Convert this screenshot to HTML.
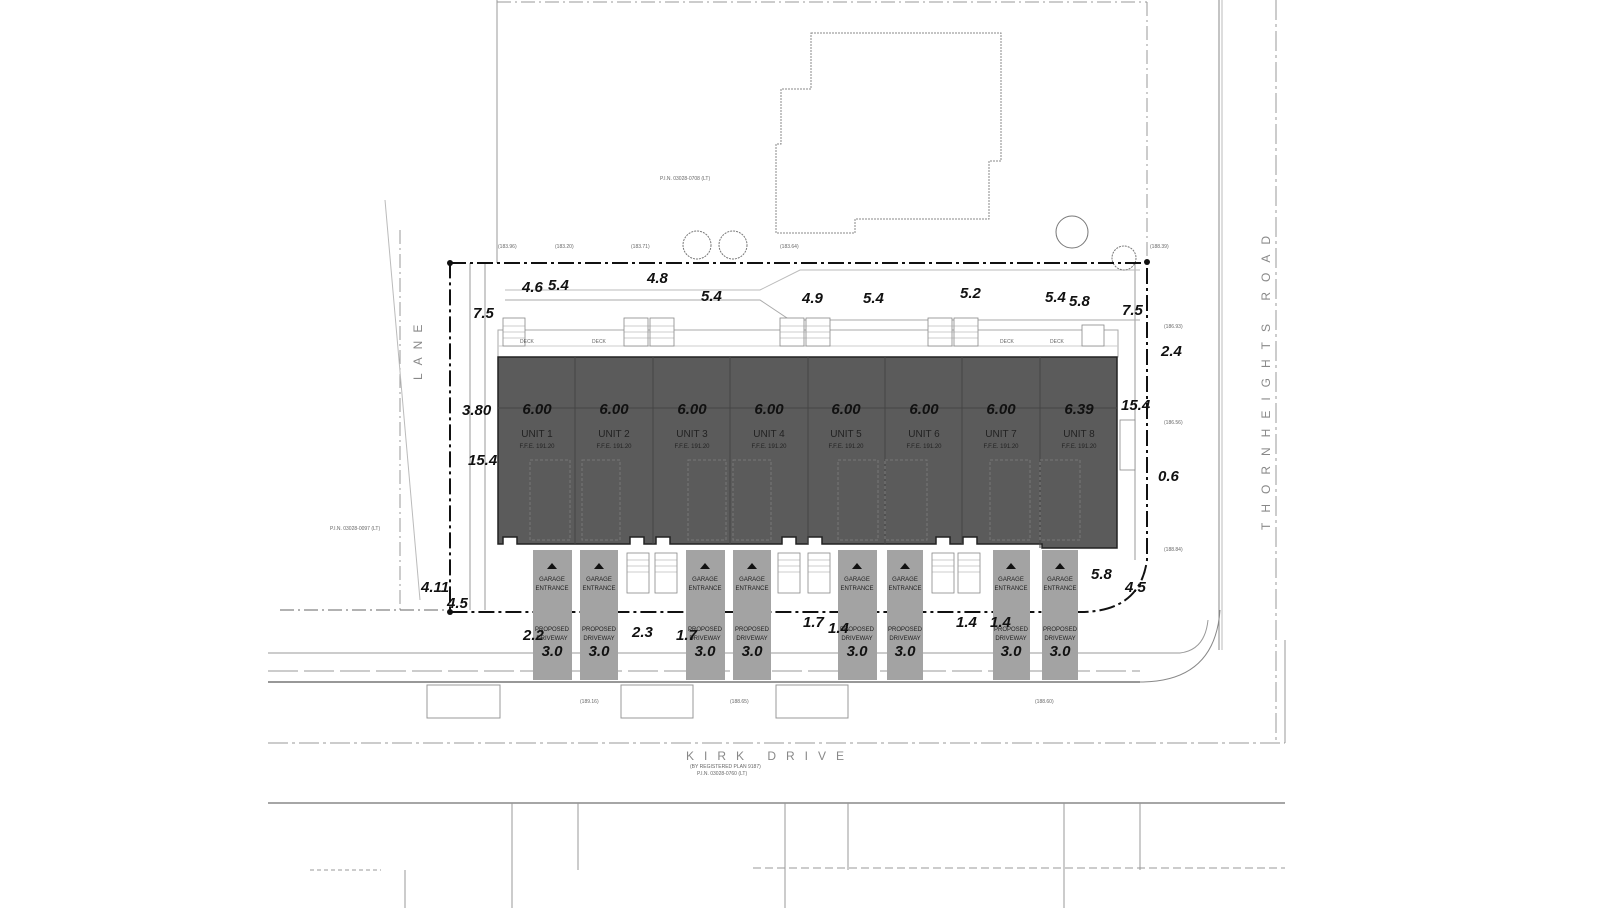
<!DOCTYPE html>
<html><head><meta charset="utf-8"><style>
html,body{margin:0;padding:0;background:#fff;width:1600px;height:908px;overflow:hidden}
svg{display:block}
.s{font-family:"Liberation Sans",sans-serif}
.n{font-family:"Liberation Sans",sans-serif;font-weight:bold;font-style:italic;font-size:15px;fill:#111}
.u{font-family:"Liberation Sans",sans-serif;font-size:10px;fill:#222}
.t{font-family:"Liberation Sans",sans-serif;font-size:5px;fill:#666}
</style></head><body>
<svg width="1600" height="908" viewBox="0 0 1600 908" xmlns="http://www.w3.org/2000/svg">
<g fill="none" stroke="#999" stroke-width="1">
<line x1="497" y1="0" x2="497" y2="263"/>
<line x1="497" y1="2" x2="1147" y2="2" stroke-dasharray="14 4 2 4"/>
<line x1="1147" y1="2" x2="1147" y2="262" stroke-dasharray="14 4 2 4"/>
<line x1="1219" y1="0" x2="1219" y2="650" stroke="#888"/>
<line x1="1222" y1="0" x2="1222" y2="650" stroke="#bbb"/>
<line x1="1276" y1="0" x2="1276" y2="743" stroke-dasharray="20 4 3 4"/>
<line x1="1285" y1="640" x2="1285" y2="743"/>
<polygon points="811,33 1001,33 1001,161 989,161 989,219 855,219 855,233 776,233 776,144 781,144 781,89 811,89" stroke="#888" stroke-dasharray="2 1"/>
<line x1="400" y1="230" x2="400" y2="610" stroke-dasharray="14 4 2 4"/>
<line x1="385" y1="200" x2="420" y2="600" stroke="#bbb"/>
<line x1="268" y1="653" x2="1180" y2="653"/>
<line x1="268" y1="671" x2="1140" y2="671" stroke-dasharray="30 6"/>
<line x1="268" y1="682" x2="1140" y2="682" stroke="#777" stroke-width="1.5"/>
<path d="M1140 682 Q1215 682 1220 610" stroke="#888"/>
<path d="M1180 653 Q1205 650 1208 620" />
<line x1="268" y1="743" x2="1285" y2="743" stroke-dasharray="20 4 3 4"/>
<line x1="268" y1="803" x2="1285" y2="803" stroke="#888" stroke-width="1.5"/>
<line x1="512" y1="803" x2="512" y2="908"/><line x1="578" y1="803" x2="578" y2="870"/>
<line x1="785" y1="803" x2="785" y2="908"/><line x1="848" y1="803" x2="848" y2="870"/>
<line x1="1064" y1="803" x2="1064" y2="908"/><line x1="1140" y1="803" x2="1140" y2="870"/>
<line x1="753" y1="868" x2="1285" y2="868" stroke-dasharray="8 4"/>
<line x1="310" y1="870" x2="381" y2="870" stroke-dasharray="4 3"/>
<line x1="405" y1="870" x2="405" y2="908"/>
<rect x="427" y="685" width="73" height="33"/><rect x="621" y="685" width="72" height="33"/><rect x="776" y="685" width="72" height="33"/>
<line x1="280" y1="610" x2="450" y2="610" stroke="#666" stroke-dasharray="14 4 2 4"/>
<line x1="470" y1="263" x2="470" y2="610"/>
<line x1="485" y1="263" x2="485" y2="610"/>
<line x1="1135" y1="263" x2="1135" y2="560"/>
<path d="M505 300 L760 300 L790 320 L1140 320" stroke="#aaa"/>
<path d="M505 290 L760 290 L800 270 L1140 270" stroke="#bbb"/>
<rect x="498" y="330" width="620" height="27" stroke="#aaa"/>
<line x1="498" y1="346" x2="1118" y2="346" stroke="#ccc"/>
</g>
<!-- deck stairs -->
<g fill="#fff" stroke="#888" stroke-width="0.8">
<rect x="503" y="318" width="22" height="28"/><rect x="624" y="318" width="24" height="28"/><rect x="650" y="318" width="24" height="28"/>
<rect x="780" y="318" width="24" height="28"/><rect x="806" y="318" width="24" height="28"/>
<rect x="928" y="318" width="24" height="28"/><rect x="954" y="318" width="24" height="28"/><rect x="1082" y="325" width="22" height="21"/>
<rect x="627" y="553" width="22" height="40"/><rect x="655" y="553" width="22" height="40"/>
<rect x="778" y="553" width="22" height="40"/><rect x="808" y="553" width="22" height="40"/>
<rect x="932" y="553" width="22" height="40"/><rect x="958" y="553" width="22" height="40"/>
<rect x="1120" y="420" width="15" height="50"/>
</g>
<g stroke="#999" stroke-width="0.6">
<path d="M627 560h22M627 566h22M627 572h22M655 560h22M655 566h22M655 572h22M778 560h22M778 566h22M778 572h22M808 560h22M808 566h22M808 572h22M932 560h22M932 566h22M932 572h22M958 560h22M958 566h22M958 572h22"/>
<path d="M503 326h22M503 332h22M503 338h22M624 326h50M624 332h50M624 338h50M780 326h50M780 332h50M780 338h50M928 326h50M928 332h50M928 338h50"/>
</g>
<g fill="none" stroke="#777">
<circle cx="697" cy="245" r="14" stroke-dasharray="2 1"/><circle cx="733" cy="245" r="14" stroke-dasharray="2 1"/><circle cx="1072" cy="232" r="16"/><circle cx="1124" cy="258" r="12" stroke-dasharray="2 1"/>
</g>
<path d="M450 263 L1147 263 L1147 560 Q1140 612 1080 612 L450 612 Z" fill="none" stroke="#111" stroke-width="2" stroke-dasharray="16 4 3 4"/>
<circle cx="450" cy="263" r="3" fill="#111"/><circle cx="1147" cy="262" r="3" fill="#111"/><circle cx="450" cy="612" r="3" fill="#111"/>
<g fill="#a3a3a3">
<rect x="533" y="550" width="39" height="130"/><rect x="580" y="550" width="38" height="130"/>
<rect x="686" y="550" width="39" height="130"/><rect x="733" y="550" width="38" height="130"/>
<rect x="838" y="550" width="39" height="130"/><rect x="887" y="550" width="36" height="130"/>
<rect x="993" y="550" width="37" height="130"/><rect x="1042" y="550" width="36" height="130"/>
</g>
<path d="M498 357 L1117 357 L1117 548 L1042 548 L1042 544 L993 544 L977 544 L977 537 L963 537 L963 544 L950 544 L950 537 L936 537 L936 544 L923 544 L838 544 L822 544 L822 537 L808 537 L808 544 L796 544 L796 537 L782 537 L782 544 L686 544 L670 544 L670 537 L656 537 L656 544 L644 544 L644 537 L630 537 L630 544 L533 544 L517 544 L517 537 L503 537 L503 544 L498 544 Z" fill="#5b5b5b" stroke="#222" stroke-width="1.5"/>
<g stroke="#444" stroke-width="1">
<line x1="575" y1="357" x2="575" y2="544"/><line x1="653" y1="357" x2="653" y2="544"/><line x1="730" y1="357" x2="730" y2="544"/><line x1="808" y1="357" x2="808" y2="544"/><line x1="885" y1="357" x2="885" y2="544"/><line x1="962" y1="357" x2="962" y2="544"/><line x1="1040" y1="357" x2="1040" y2="548"/>
<line x1="498" y1="408" x2="1117" y2="408"/>
</g>
<g fill="none" stroke="#777" stroke-dasharray="3 2">
<rect x="530" y="460" width="40" height="80"/><rect x="582" y="460" width="38" height="80"/><rect x="688" y="460" width="38" height="80"/><rect x="733" y="460" width="38" height="80"/><rect x="838" y="460" width="40" height="80"/><rect x="885" y="460" width="42" height="80"/><rect x="990" y="460" width="40" height="80"/><rect x="1040" y="460" width="40" height="80"/>
</g>
<g text-anchor="middle">
<g class="n" font-size="15">
<text x="537" y="414">6.00</text><text x="614" y="414">6.00</text><text x="692" y="414">6.00</text><text x="769" y="414">6.00</text><text x="846" y="414">6.00</text><text x="924" y="414">6.00</text><text x="1001" y="414">6.00</text><text x="1079" y="414">6.39</text>
</g>
<g class="u">
<text x="537" y="437">UNIT 1</text><text x="614" y="437">UNIT 2</text><text x="692" y="437">UNIT 3</text><text x="769" y="437">UNIT 4</text><text x="846" y="437">UNIT 5</text><text x="924" y="437">UNIT 6</text><text x="1001" y="437">UNIT 7</text><text x="1079" y="437">UNIT 8</text>
</g>
<g class="s" font-size="6" fill="#222">
<text x="537" y="448">F.F.E. 191.20</text><text x="614" y="448">F.F.E. 191.20</text><text x="692" y="448">F.F.E. 191.20</text><text x="769" y="448">F.F.E. 191.20</text><text x="846" y="448">F.F.E. 191.20</text><text x="924" y="448">F.F.E. 191.20</text><text x="1001" y="448">F.F.E. 191.20</text><text x="1079" y="448">F.F.E. 191.20</text>
</g>
<g class="s" font-size="6" fill="#222">
<text x="552" y="581">GARAGE</text><text x="599" y="581">GARAGE</text><text x="705" y="581">GARAGE</text><text x="752" y="581">GARAGE</text><text x="857" y="581">GARAGE</text><text x="905" y="581">GARAGE</text><text x="1011" y="581">GARAGE</text><text x="1060" y="581">GARAGE</text>
<text x="552" y="590">ENTRANCE</text><text x="599" y="590">ENTRANCE</text><text x="705" y="590">ENTRANCE</text><text x="752" y="590">ENTRANCE</text><text x="857" y="590">ENTRANCE</text><text x="905" y="590">ENTRANCE</text><text x="1011" y="590">ENTRANCE</text><text x="1060" y="590">ENTRANCE</text>
<text x="552" y="631">PROPOSED</text><text x="599" y="631">PROPOSED</text><text x="705" y="631">PROPOSED</text><text x="752" y="631">PROPOSED</text><text x="857" y="631">PROPOSED</text><text x="905" y="631">PROPOSED</text><text x="1011" y="631">PROPOSED</text><text x="1060" y="631">PROPOSED</text>
<text x="552" y="640">DRIVEWAY</text><text x="599" y="640">DRIVEWAY</text><text x="705" y="640">DRIVEWAY</text><text x="752" y="640">DRIVEWAY</text><text x="857" y="640">DRIVEWAY</text><text x="905" y="640">DRIVEWAY</text><text x="1011" y="640">DRIVEWAY</text><text x="1060" y="640">DRIVEWAY</text>
</g>
<g class="n">
<text x="552" y="656">3.0</text><text x="599" y="656">3.0</text><text x="705" y="656">3.0</text><text x="752" y="656">3.0</text><text x="857" y="656">3.0</text><text x="905" y="656">3.0</text><text x="1011" y="656">3.0</text><text x="1060" y="656">3.0</text>
</g>
</g>
<g fill="#111">
<polygon points="552,563 547,569 557,569"/><polygon points="599,563 594,569 604,569"/><polygon points="705,563 700,569 710,569"/><polygon points="752,563 747,569 757,569"/><polygon points="857,563 852,569 862,569"/><polygon points="905,563 900,569 910,569"/><polygon points="1011,563 1006,569 1016,569"/><polygon points="1060,563 1055,569 1065,569"/>
</g>
<g class="n">
<text x="522" y="292">4.6</text><text x="548" y="290">5.4</text><text x="647" y="283">4.8</text><text x="701" y="301">5.4</text><text x="802" y="303">4.9</text><text x="863" y="303">5.4</text><text x="960" y="298">5.2</text><text x="1045" y="302">5.4</text><text x="1069" y="306">5.8</text><text x="1122" y="315">7.5</text>
<text x="473" y="318">7.5</text><text x="462" y="415">3.80</text><text x="468" y="465">15.4</text><text x="421" y="592">4.11</text><text x="447" y="608">4.5</text>
<text x="1161" y="356">2.4</text><text x="1121" y="410">15.4</text><text x="1158" y="481">0.6</text><text x="1091" y="579">5.8</text><text x="1125" y="592">4.5</text>
<text x="523" y="640">2.2</text><text x="632" y="637">2.3</text><text x="676" y="640">1.7</text><text x="803" y="627">1.7</text><text x="828" y="633">1.4</text><text x="956" y="627">1.4</text><text x="990" y="627">1.4</text>
</g>
<g class="s" fill="#888" font-size="12" letter-spacing="10">
<text x="686" y="760">KIRK  DRIVE</text>
</g>
<text class="s" fill="#888" font-size="12" letter-spacing="10" transform="translate(1270 530) rotate(-90)">THORNHEIGHTS ROAD</text>
<text class="s" fill="#888" font-size="12" letter-spacing="8" transform="translate(422 380) rotate(-90)">LANE</text>
<g class="t">
<text x="690" y="768">(BY REGISTERED PLAN 9187)</text><text x="697" y="775">P.I.N. 03028-0760 (LT)</text>
<text x="660" y="180">P.I.N. 03028-0708 (LT)</text><text x="330" y="530">P.I.N. 03028-0097 (LT)</text>
<text x="498" y="248">(183.96)</text><text x="555" y="248">(183.20)</text><text x="631" y="248">(183.71)</text><text x="780" y="248">(183.64)</text><text x="1150" y="248">(188.39)</text>
<text x="1164" y="328">(186.93)</text><text x="1164" y="424">(186.56)</text><text x="1164" y="551">(188.84)</text>
<text x="580" y="703">(189.16)</text><text x="730" y="703">(188.65)</text><text x="1035" y="703">(188.60)</text>
<text x="520" y="343">DECK</text><text x="592" y="343">DECK</text><text x="1000" y="343">DECK</text><text x="1050" y="343">DECK</text>
</g>
</svg>
</body></html>
